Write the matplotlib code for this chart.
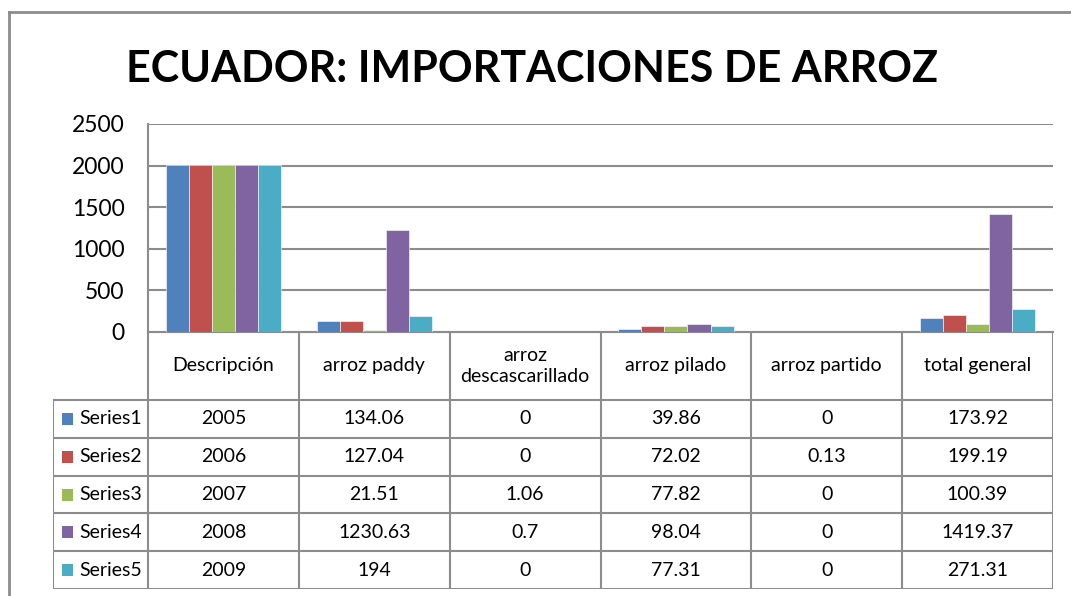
import matplotlib
matplotlib.use("Agg")
from matplotlib import pyplot as plt
from matplotlib.lines import Line2D
from matplotlib.patches import Rectangle
import numpy as np

# 数据
categories = ["Descripción", "arroz paddy", "arroz\ndescascarillado",
              "arroz pilado", "arroz partido", "total general"]
series_names = ["Series1", "Series2", "Series3", "Series4", "Series5"]
series1 = [2005, 134.06, 0, 39.86, 0, 173.92]
series2 = [2006, 127.04, 0, 72.02, 0.13, 199.19]
series3 = [2007, 21.51, 1.06, 77.82, 0, 100.39]
series4 = [2008, 1230.63, 0.7, 98.04, 0, 1419.37]
series5 = [2009, 194, 0, 77.31, 0, 271.31]
all_series = [series1, series2, series3, series4, series5]
colors = ["#4F81BD", "#C0504D", "#9BBB59", "#8064A2", "#4BACC6"]
y_ticks = [0, 500, 1000, 1500, 2000, 2500]

plt.rcParams['font.family'] = ['Lato', 'DejaVu Sans']

W, H = 1071, 596
fig = plt.figure(figsize=(W / 100, H / 100), dpi=100)
grid_c = "#8C8C8C"

# 外框
fig.add_artist(Line2D([9 / W, 1], [1 - 12 / H, 1 - 12 / H], color="#8C8C8C", lw=2))
fig.add_artist(Line2D([9 / W, 9 / W], [0, 1 - 12 / H], color="#8C8C8C", lw=2))

# 标题
fig.text(532 / W, 1 - 69 / H, "ECUADOR: IMPORTACIONES DE ARROZ",
         ha="center", va="center", fontsize=31, fontweight="bold")

# 柱状图
ax = fig.add_axes([148 / W, 1 - 332 / H, (1053 - 148) / W, (332 - 124) / H])
x = np.arange(len(categories))
bw = 0.153
for i, (vals, c) in enumerate(zip(all_series, colors)):
    ax.bar(x + (i - 2) * bw, vals, width=bw, color=c, edgecolor="white", linewidth=0.4, zorder=3)
ax.set_xlim(-0.5, len(categories) - 0.5)
ax.set_ylim(0, 2500)
ax.set_yticks(y_ticks)
ax.tick_params(axis="y", length=0, pad=17, labelsize=16.5)
ax.set_xticks([])
ax.grid(axis="y", color=grid_c, lw=1.5, zorder=0)
for s in ["top", "right"]:
    ax.spines[s].set_visible(False)
ax.spines["left"].set_color(grid_c)
ax.spines["left"].set_linewidth(1.5)
ax.spines["bottom"].set_color(grid_c)
ax.spines["bottom"].set_linewidth(1.5)

# 数据表
left_px = 53
unit = (1053 - 148) / len(categories)
x_left = -0.5 - (148 - left_px) / unit
tab = fig.add_axes([left_px / W, 1 - 589 / H, (1053 - left_px) / W, (589 - 332) / H])
tab.set_xlim(x_left, len(categories) - 0.5)
header_h = 68
row_h = (257 - header_h) / len(series_names)
tab.set_ylim(257, 0)
tab.axis("off")

lw = 1.5
fs = 14
# 横线
tab.plot([-0.5, len(categories) - 0.5], [0, 0], color=grid_c, lw=lw)
for r in range(len(series_names) + 1):
    yy = header_h + r * row_h
    tab.plot([x_left, len(categories) - 0.5], [yy, yy], color=grid_c, lw=lw)
# 竖线
for k in range(len(categories) + 1):
    xx = -0.5 + k
    tab.plot([xx, xx], [0, 257], color=grid_c, lw=lw)
tab.plot([x_left, x_left], [header_h, 257], color=grid_c, lw=lw)

# 表头
for j, cat in enumerate(categories):
    tab.text(j, header_h / 2, cat, ha="center", va="center", fontsize=fs,
             linespacing=1.25)

# 行
key = 11.5 / unit
for i, (name, vals, c) in enumerate(zip(series_names, all_series, colors)):
    yc = header_h + (i + 0.5) * row_h
    tab.add_patch(Rectangle((x_left + 9 / unit, yc - 6), key, 12, color=c, lw=0))
    tab.text(x_left + 26 / unit, yc, name, ha="left", va="center", fontsize=fs)
    for j, v in enumerate(vals):
        tab.text(j, yc, "{:g}".format(v), ha="center", va="center", fontsize=fs)

plt.savefig("out.png", dpi=100)
